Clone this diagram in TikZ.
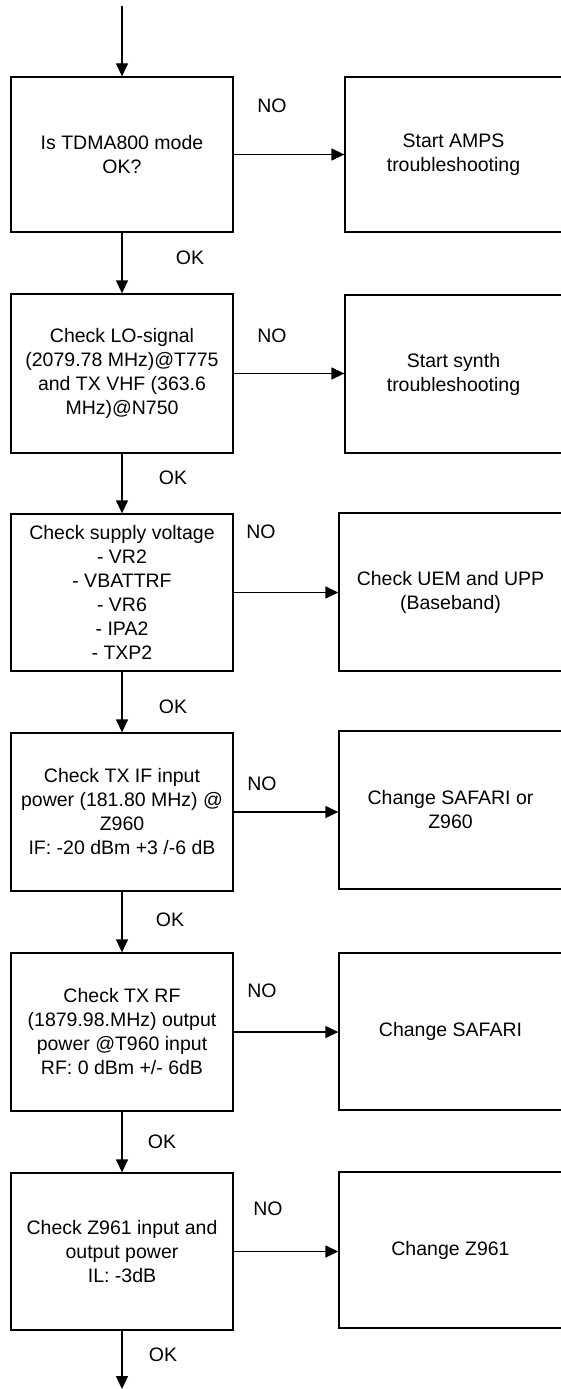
\documentclass[tikz,border=0pt]{standalone}
\usepackage{fontspec}
\setmainfont{Liberation Sans}
\usetikzlibrary{arrows.meta}
\begin{document}
\begin{tikzpicture}[x=1pt,y=-1pt,
  every node/.style={font=\fontsize{19.5}{24}\selectfont},
  lbox/.style={draw,line width=1.3pt,rectangle,align=center,minimum width=222pt,inner sep=1pt},
  rbox/.style={draw,line width=1.3pt,rectangle,align=center,inner sep=1pt},
  arr/.style={line width=1.3pt,-{Triangle[length=13pt,width=12pt]}},
  lab/.style={inner sep=0pt}]
\useasboundingbox (0,0) rectangle (560,1389);
% left boxes
\node[lbox,minimum height=155pt] (b1) at (122,154.5) {Is TDMA800 mode\\OK?};
\node[lbox,minimum height=159pt] (b2) at (122,373.5) {Check LO-signal\\(2079.78 MHz)@T775\\and TX VHF (363.6\\MHz)@N750};
\node[lbox,minimum height=157pt] (b3) at (122,592.5) {Check supply voltage\\- VR2\\- VBATTRF\\- VR6\\- IPA2\\- TXP2};
\node[lbox,minimum height=158pt] (b4) at (122,812) {Check TX IF input\\power (181.80 MHz) @\\Z960\\IF: -20 dBm +3 /-6 dB};
\node[lbox,minimum height=158pt] (b5) at (122,1032) {Check TX RF\\(1879.98.MHz) output\\power @T960 input\\RF: 0 dBm +/- 6dB};
\node[lbox,minimum height=157pt] (b6) at (122,1251.5) {Check Z961 input and\\output power\\IL: -3dB};
% right boxes
\node[rbox,minimum width=217pt,minimum height=155pt] (r1) at (453.5,154.5) {Start AMPS\\troubleshooting};
\node[rbox,minimum width=217pt,minimum height=158pt] (r2) at (453.5,374) {Start synth\\troubleshooting};
\node[rbox,minimum width=223pt,minimum height=158pt] (r3) at (450.5,592) {Check UEM and UPP\\(Baseband)};
\node[rbox,minimum width=223pt,minimum height=158pt] (r4) at (450.5,810) {Change SAFARI or\\Z960};
\node[rbox,minimum width=223pt,minimum height=157pt] (r5) at (450.5,1031.5) {Change SAFARI};
\node[rbox,minimum width=223pt,minimum height=156pt] (r6) at (450.5,1250) {Change Z961};
% free ends
\coordinate (top) at (122,6);
\coordinate (bot) at (122,1389);
% vertical connectors
\draw[arr] (top) -- (b1.north);
\draw[arr] (b1.south) -- (b2.north);
\draw[arr] (b2.south) -- (b3.north);
\draw[arr] (b3.south) -- (b4.north);
\draw[arr] (b4.south) -- (b5.north);
\draw[arr] (b5.south) -- (b6.north);
\draw[arr] (b6.south) -- (bot);
% horizontal connectors
\draw[arr] (b1.east) -- (b1.east -| r1.west);
\draw[arr] (b2.east) -- (b2.east -| r2.west);
\draw[arr] (b3.east) -- (b3.east -| r3.west);
\draw[arr] (b4.east) -- (b4.east -| r4.west);
\draw[arr] (b5.east) -- (b5.east -| r5.west);
\draw[arr] (b6.east) -- (b6.east -| r6.west);
% labels
\node[lab] (no1) at (272,106) {NO};
\node[lab] (no2) at (272,336) {NO};
\node[lab] (no3) at (261,532) {NO};
\node[lab] (no4) at (262,784) {NO};
\node[lab] (no5) at (262,991) {NO};
\node[lab] (no6) at (268,1209) {NO};
\node[lab] (ok1) at (190,258) {OK};
\node[lab] (ok2) at (173,478) {OK};
\node[lab] (ok3) at (173,707) {OK};
\node[lab] (ok4) at (170,920) {OK};
\node[lab] (ok5) at (162,1142) {OK};
\node[lab] (ok6) at (163,1355) {OK};
\end{tikzpicture}
\end{document}
